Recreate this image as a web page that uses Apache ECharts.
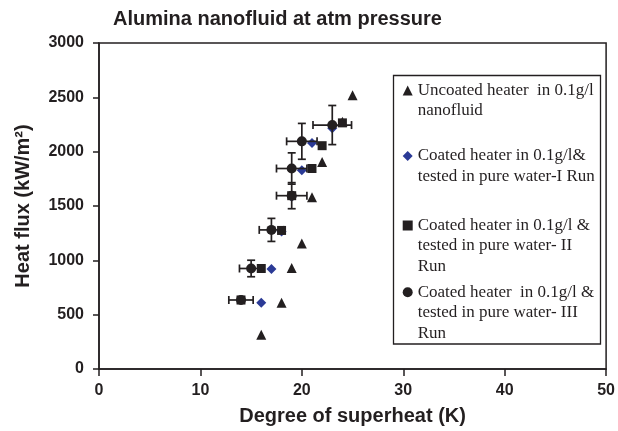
<!DOCTYPE html>
<html>
<head>
<meta charset="utf-8">
<script src="https://cdn.jsdelivr.net/npm/echarts@6/dist/echarts.min.js"></script>
<style>
  html, body { margin: 0; padding: 0; background: #fff; }
  #main { width: 618px; height: 431px; }
</style>
</head>
<body>
<div id="main"></div>
<script>
// data
var uncoatedX = [16, 18, 19, 20, 21, 22, 24, 25];
var uncoatedY = [315, 610, 930, 1155, 1580, 1905, 2275, 2520];

var run1X = [16, 17, 18, 19, 20, 21, 23];
var run1Y = [610, 920, 1265, 1585, 1830, 2080, 2215];

var run2X = [14, 16, 18, 19, 21, 22, 24];
var run2Y = [635, 925, 1275, 1595, 1845, 2055, 2265];

var run3X = [14, 15, 17, 19, 19, 20, 23];
var run3Y = [635, 925, 1280, 1595, 1845, 2095, 2245];
var run3ErrX = [1.2, 1.15, 1.2, 1.5, 1.5, 1.5, 1.9];
var run3ErrY = [30, 76, 106, 120, 144, 165, 180];

var seriesNames = [
  'Uncoated heater  in 0.1g/l\nnanofluid',
  'Coated heater in 0.1g/l&\ntested in pure water-I Run',
  'Coated heater in 0.1g/l &\ntested in pure water- II\nRun',
  'Coated heater  in 0.1g/l &\ntested in pure water- III\nRun'
];

var ink = '#231f20';
var blue = '#2b3a96';

function pairs(xs, ys) {
  return xs.map(function (x, i) { return [x, ys[i]]; });
}

var errData = run3X.map(function (x, i) {
  return [x, run3Y[i], run3ErrX[i], run3ErrY[i]];
});

function renderErr(params, api) {
  var x = api.value(0), y = api.value(1), ex = api.value(2), ey = api.value(3);
  var c = api.coord([x, y]);
  var l = api.coord([x - ex, y])[0];
  var r = api.coord([x + ex, y])[0];
  var t = api.coord([x, y + ey])[1];
  var b = api.coord([x, y - ey])[1];
  var cap = 4;
  var st = { stroke: ink, lineWidth: 1.7 };
  function ln(x1, y1, x2, y2) {
    return { type: 'line', shape: { x1: x1, y1: y1, x2: x2, y2: y2 }, style: st };
  }
  return {
    type: 'group',
    children: [
      ln(l, c[1], r, c[1]),
      ln(l, c[1] - cap, l, c[1] + cap),
      ln(r, c[1] - cap, r, c[1] + cap),
      ln(c[0], t, c[0], b),
      ln(c[0] - cap, t, c[0] + cap, t),
      ln(c[0] - cap, b, c[0] + cap, b)
    ]
  };
}

// legend: one block per series; blank lines in front keep the icon level
// with the first text line
var lineH = 20.5;
var firstLineY = [90.5, 156, 225.5, 292.3];
var legends = seriesNames.map(function (name, i) {
  var n = name.split('\n').length;
  var pad = new Array(n).join('\n');
  return {
    data: [name],
    formatter: function (s) { return pad + s; },
    left: 402.7,
    top: firstLineY[i] - (n - 1) * lineH - lineH / 2,
    padding: 0,
    itemWidth: 10,
    itemHeight: 10,
    selectedMode: false,
    textStyle: {
      fontFamily: 'Liberation Serif',
      fontSize: 17,
      color: ink,
      lineHeight: lineH
    }
  };
});

function plain(v) { return String(v); }

var chart = echarts.init(document.getElementById('main'));
chart.setOption({
  animation: false,
  title: {
    text: 'Alumina nanofluid at atm pressure',
    left: 113,
    top: 9,
    padding: 0,
    textStyle: { fontFamily: 'Liberation Sans', fontSize: 20, fontWeight: 'bold', color: ink }
  },
  legend: legends,
  graphic: [{
    type: 'rect',
    shape: { x: 393.5, y: 75.5, width: 207, height: 268.5 },
    style: { fill: 'none', stroke: ink, lineWidth: 1.3 },
    z: 0
  }],
  grid: {
    left: 99, right: 10, top: 43, bottom: 62,
    show: true, borderColor: ink, borderWidth: 1.5
  },
  xAxis: {
    type: 'value',
    min: 0, max: 50, interval: 10,
    name: 'Degree of superheat (K)',
    nameLocation: 'middle',
    nameGap: 37,
    nameTextStyle: { fontFamily: 'Liberation Sans', fontSize: 20, fontWeight: 'bold', color: ink },
    axisLine: { lineStyle: { color: ink, width: 1.5 } },
    axisTick: { length: 7, lineStyle: { color: ink, width: 1.5 } },
    axisLabel: { margin: 14, formatter: plain, fontFamily: 'Liberation Sans', fontSize: 16, fontWeight: 'bold', color: ink },
    splitLine: { show: false }
  },
  yAxis: {
    type: 'value',
    min: 0, max: 3000, interval: 500,
    name: 'Heat flux (kW/m\u00b2)',
    nameLocation: 'middle',
    nameGap: 66,
    nameTextStyle: { fontFamily: 'Liberation Sans', fontSize: 20, fontWeight: 'bold', color: ink },
    axisLine: { lineStyle: { color: ink, width: 1.5 } },
    axisTick: { length: 6, lineStyle: { color: ink, width: 1.5 } },
    axisLabel: { margin: 15, formatter: plain, fontFamily: 'Liberation Sans', fontSize: 16, fontWeight: 'bold', color: ink },
    splitLine: { show: false }
  },
  series: [
    {
      name: seriesNames[0], type: 'scatter', symbol: 'triangle', symbolSize: 10,
      itemStyle: { color: ink, opacity: 1 }, data: pairs(uncoatedX, uncoatedY)
    },
    {
      name: seriesNames[1], type: 'scatter', symbol: 'diamond', symbolSize: 10,
      itemStyle: { color: blue, opacity: 1 }, data: pairs(run1X, run1Y)
    },
    {
      name: seriesNames[2], type: 'scatter', symbol: 'rect', symbolSize: 9,
      itemStyle: { color: ink, opacity: 1 }, data: pairs(run2X, run2Y)
    },
    {
      name: 'err', type: 'custom', renderItem: renderErr,
      encode: { x: 0, y: 1 }, data: errData, z: 3
    },
    {
      name: seriesNames[3], type: 'scatter', symbol: 'circle', symbolSize: 10,
      itemStyle: { color: ink, opacity: 1 }, data: pairs(run3X, run3Y), z: 4
    }
  ]
});
</script>
</body>
</html>
